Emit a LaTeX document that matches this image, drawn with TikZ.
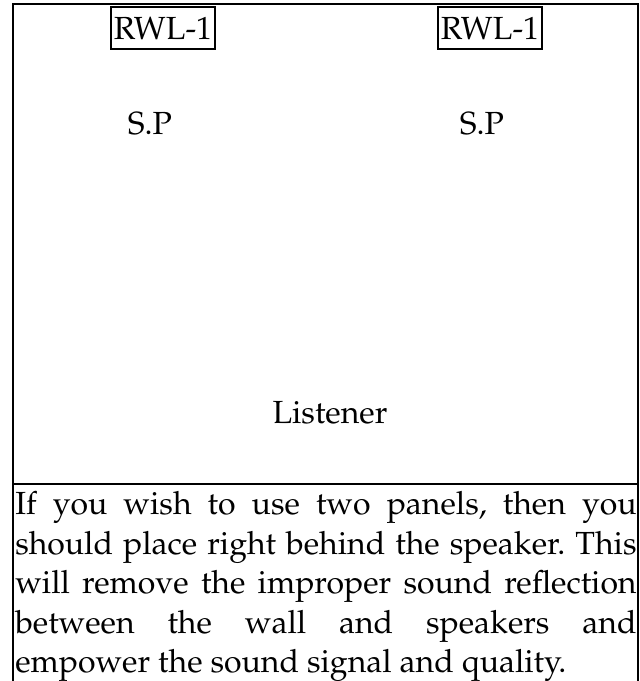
\documentclass[tikz,border=0pt]{standalone}
\usepackage[T1]{fontenc}
\renewcommand{\rmdefault}{ppl}
\frenchspacing
\begin{document}
\begin{tikzpicture}[x=0.75pt,y=-0.75pt,
  lbl/.style={font=\fontsize{24}{30}\selectfont, inner sep=0pt, anchor=base},
  panel/.style={draw, line width=1.5pt, font=\fontsize{24}{30}\selectfont, anchor=base,
    inner xsep=1.8pt, inner ysep=0.4pt, text height=24.3pt, text depth=6.4pt},
  frame/.style={line width=1.6pt}]
\useasboundingbox (0,0) rectangle (639,681);
% frame
\coordinate (tl) at (13,4);
\coordinate (tr) at (638,4);
\coordinate (bl) at (13,681);
\coordinate (br) at (638,681);
\coordinate (ml) at (13,484);
\coordinate (mr) at (638,484);
\draw[frame] (bl) -- (tl) -- (tr) -- (br);
\draw[frame] (ml) -- (mr);
% labels
\node[panel] (p1) at (163,40) {RWL-1};
\node[panel] (p2) at (490,40) {RWL-1};
\node[lbl] (s1) at (150,135) {S.P};
\node[lbl] (s2) at (482,135) {S.P};
\node[lbl] (ls) at (330,423) {Listener};
\node[anchor=north west, inner sep=0pt, text width=466pt, align=justify,
  font=\fontsize{24}{29.6}\selectfont] (txt) at (15,487)
  {\strut If you wish to use two panels, then you\linebreak should place right behind the speaker. This\linebreak will remove the improper sound reflection\linebreak between the wall and speakers and\linebreak empower the sound signal and quality.};
\end{tikzpicture}
\end{document}
